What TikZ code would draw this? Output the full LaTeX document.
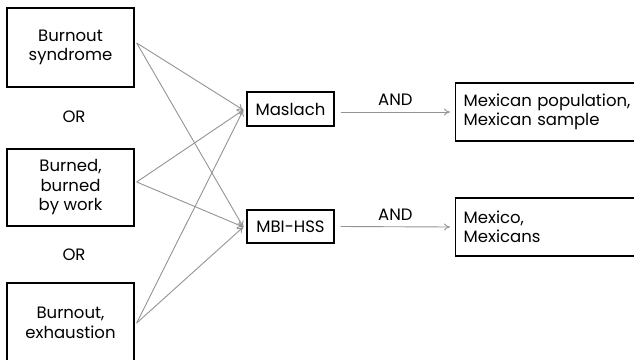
\documentclass[tikz,border=0pt]{standalone}
\usepackage{fontspec}
\setmainfont{Poppins}
\usetikzlibrary{arrows.meta}
\begin{document}
\begin{tikzpicture}[x=1pt,y=1pt,
  txt/.style={font=\fontsize{16.5}{19.5}\selectfont, inner sep=0pt},
  termbox/.style={draw=black, line width=1.4pt, txt, align=center},
  langbox/.style={draw=black, line width=1.4pt, txt, align=left, anchor=west, text width=170pt, inner xsep=8pt},
  link/.style={draw=black!42, line width=0.9pt, -{To[length=6pt,width=7pt]}},
  oplabel/.style={txt}]
\useasboundingbox (0,0) rectangle (634,-359);
\clip (0,0) rectangle (634,-359);
\fill[white] (0,0) rectangle (634,-359);

% search terms on the left
\node[termbox, minimum width=127pt, minimum height=79pt] (bs) at (70.5,-47.5) {Burnout\\syndrome};
\node[oplabel] (or1) at (74,-117) {OR};
\node[termbox, minimum width=127pt, minimum height=77pt] (bw) at (70.5,-187.5) {Burned,\\burned\\by work};
\node[oplabel] (or2) at (74,-255) {OR};
\node[termbox, minimum width=127pt, minimum height=80pt] (be) at (70.5,-323) {Burnout,\\exhaustion};

% instruments in the middle
\node[termbox, minimum width=87pt, minimum height=34pt] (ma) at (290.5,-109) {Maslach};
\node[termbox, minimum width=87pt, minimum height=33pt] (mbi) at (290.5,-226.5) {MBI-HSS};

% population terms on the right
\node[langbox, minimum height=58pt] (mp) at (455,-112) {Mexican population,\\Mexican sample};
\node[langbox, minimum height=58pt] (mx) at (455,-227) {Mexico,\\Mexicans};

% start points of the links
\coordinate (s1) at ([xshift=2pt,yshift=4.5pt]bs.east);
\coordinate (s2) at ([xshift=2pt,yshift=5.5pt]bw.east);
\coordinate (s3) at ([xshift=2pt,yshift=-0pt]be.east);
\coordinate (t1) at ([xshift=-3pt,yshift=-1pt]ma.west);
\coordinate (t2) at ([xshift=-3pt,yshift=-0.5pt]mbi.west);

\draw[link] (s1) -- (t1);
\draw[link] (s1) -- (t2);
\draw[link] (s2) -- (t1);
\draw[link] (s2) -- (t2);
\draw[link] (s3) -- (t1);
\draw[link] (s3) -- (t2);

\draw[link] ([xshift=6pt,yshift=-3pt]ma.east) -- node[oplabel, above=6pt] {AND} ([xshift=-5pt]mp.west);
\draw[link] ([xshift=6pt]mbi.east) -- node[oplabel, above=6pt] {AND} ([xshift=-5pt]mx.west);
\end{tikzpicture}
\end{document}
